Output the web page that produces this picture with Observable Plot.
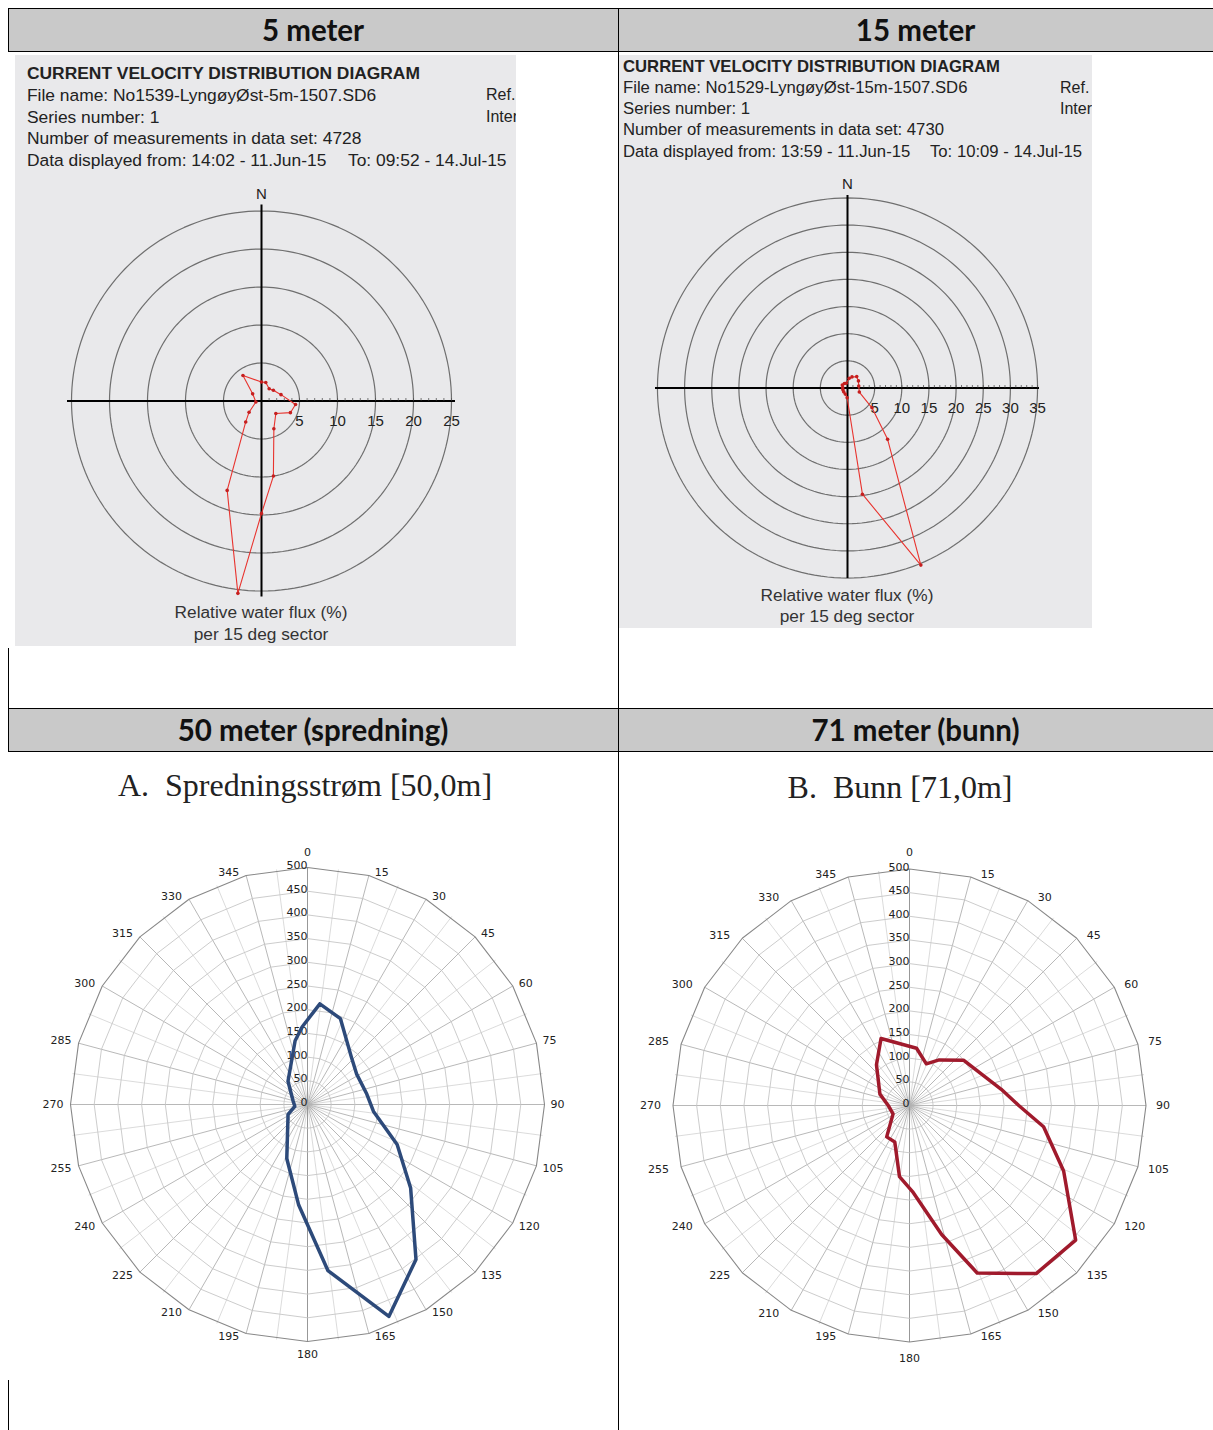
<!DOCTYPE html>
<html><head><meta charset="utf-8">
<script src="https://cdn.jsdelivr.net/npm/d3@7"></script>
<script src="https://cdn.jsdelivr.net/npm/@observablehq/plot@0.6"></script>
<style>
body{margin:0;width:1213px;height:1430px;position:relative;background:#fff;overflow:hidden;font-family:"Liberation Sans",Arial,sans-serif;}
.hdr{position:absolute;background:#c9c9c9;font-family:Lato,"Open Sans",sans-serif;font-weight:700;font-size:29.5px;color:#111;display:flex;align-items:center;justify-content:center;}
.vl{position:absolute;background:#000;width:1px;}
.hl{position:absolute;background:#000;height:1px;}
.panel{position:absolute;background:#e9e9eb;overflow:hidden;color:#222;}
.t{position:absolute;white-space:nowrap;line-height:20px;}
.cap{position:absolute;text-align:center;color:#333;font-size:17.3px;line-height:22px;white-space:nowrap;}
.ttl{position:absolute;font-family:"Liberation Serif","DejaVu Serif",serif;font-size:32px;color:#222;white-space:pre;text-align:center;}
.plot{position:absolute;}
</style></head><body>
<script>
// ---------- data ----------
const headers = ["5 meter", "15 meter", "50 meter (spredning)", "71 meter (bunn)"];

// 5 m: relative water flux (%) per 15 deg sector (direction in degrees)
const depth5Angles = [0, 13, 32, 48, 72, 96, 112, 131, 156, 171, 180, 187, 201, 217, 228, 260, 309, 324];
const depth5Flux   = [2.5, 2.5, 1.9, 2.1, 2.7, 4.5, 4.1, 2.5, 4.0, 10.0, 14.8, 25.5, 12.6, 3.45, 2.2, 0.75, 1.5, 4.15];

// 15 m
const depth15Angles = [10, 22, 39, 57, 80, 109, 129, 142, 157.5, 172, 182, 200, 225, 250, 275, 300, 325, 345];
const depth15Flux   = [1.8, 2.2, 2.7, 2.4, 2.1, 2.3, 5.8, 12.0, 35.3, 19.75, 1.8, 1.2, 1.0, 0.9, 0.9, 1.1, 1.0, 0.9];

// 50 m (spredning)
const spredAngles = [7, 21, 43, 58, 80, 96, 114, 129, 145, 159, 173, 185, 201, 243, 262, 283, 320, 349, 356];
const spredFlux   = [214, 194, 136, 122, 127, 140, 207, 280, 399, 479, 353, 213, 122, 46, 27, 31, 64, 137, 164];

// 71 m (bunn)
const bunnAngles = [7, 22, 33, 50, 80, 90, 99, 113, 129, 143, 158, 166, 178, 188, 202, 216, 243, 270, 291, 321, 337];
const bunnFlux   = [122, 95, 115, 149, 197, 231, 287, 354, 452, 445, 382, 281, 182, 152, 83, 82, 39, 45, 67, 111, 154];

const rings5m = [5, 10, 15, 20, 25];
const rings15m = [5, 10, 15, 20, 25, 30, 35];
const bottomRings = [0, 50, 100, 150, 200, 250, 300, 350, 400, 450, 500];
const compassLabels = [0, 15, 30, 45, 60, 75, 90, 105, 120, 135, 150, 165, 180, 195, 210, 225, 240, 255, 270, 285, 300, 315, 330, 345];

const titles = ["A.  Spredningsstrøm [50,0m]", "B.  Bunn [71,0m]"];
const info5 = ["CURRENT VELOCITY DISTRIBUTION DIAGRAM", "File name: No1539-LyngøyØst-5m-1507.SD6", "Series number: 1", "Number of measurements in data set: 4728", "Data displayed from: 14:02 - 11.Jun-15", "To: 09:52 - 14.Jul-15"];
const info15 = ["CURRENT VELOCITY DISTRIBUTION DIAGRAM", "File name: No1529-LyngøyØst-15m-1507.SD6", "Series number: 1", "Number of measurements in data set: 4730", "Data displayed from: 13:59 - 11.Jun-15", "To: 10:09 - 14.Jul-15"];
const captionLines = ["Relative water flux (%)", "per 15 deg sector"];

// ---------- helpers ----------
const rad = a => a * Math.PI / 180;
const px = (a, v) => v * Math.sin(rad(a));
const py = (a, v) => v * Math.cos(rad(a));
function polyPts(angles, vals) {
  return angles.map((a, i) => ({x: px(a, vals[i]), y: py(a, vals[i])}));
}
function closed(p) { return [...p, p[0]]; }
function frame(left, top, W, H, cx, cy, k, font) {
  return {
    width: W, height: H, marginTop: 0, marginRight: 0, marginBottom: 0, marginLeft: 0,
    x: {domain: [-(cx - left) / k, (left + W - cx) / k], axis: null},
    y: {domain: [-(top + H - cy) / k, (cy - top) / k], axis: null},
    style: {background: "transparent", overflow: "visible", fontFamily: font}
  };
}
function place(node, left, top) {
  const d = document.createElement("div");
  d.className = "plot";
  d.style.left = left + "px"; d.style.top = top + "px";
  d.appendChild(node);
  document.body.appendChild(d);
}
function el(cls, style, text, parent) {
  const d = document.createElement("div");
  d.className = cls;
  Object.assign(d.style, style);
  if (text != null) d.textContent = text;
  (parent || document.body).appendChild(d);
  return d;
}

// ---------- table ----------
el("hdr", {left: "8px", top: "8px", width: "610px", height: "43px"}, headers[0]);
el("hdr", {left: "618px", top: "8px", width: "595px", height: "43px"}, headers[1]);
el("hdr", {left: "8px", top: "708px", width: "610px", height: "43px"}, headers[2]);
el("hdr", {left: "618px", top: "708px", width: "595px", height: "43px"}, headers[3]);
[8, 51, 708, 751].forEach(y => el("hl", {left: "8px", top: y + "px", width: "1205px"}));
el("vl", {left: "618px", top: "8px", height: "1422px"});
el("vl", {left: "8px", top: "8px", height: "43px"});
el("vl", {left: "8px", top: "648px", height: "103px"});
el("vl", {left: "8px", top: "1380px", height: "50px"});

// ---------- top panels ----------
function topPanel(left, top, w, h, info, tops, refX, toX, textX, fs) {
  const p = el("panel", {left: left + "px", top: top + "px", width: w + "px", height: h + "px", fontSize: fs + "px"});
  el("t", {left: textX + "px", top: tops[0] + "px", fontWeight: "bold"}, info[0], p);
  el("t", {left: textX + "px", top: tops[1] + "px"}, info[1], p);
  el("t", {left: textX + "px", top: tops[2] + "px"}, info[2], p);
  el("t", {left: textX + "px", top: tops[3] + "px"}, info[3], p);
  el("t", {left: textX + "px", top: tops[4] + "px"}, info[4], p);
  el("t", {left: toX + "px", top: tops[4] + "px"}, info[5], p);
  el("t", {left: refX + "px", top: tops[1] + "px", fontSize: "16px"}, "Ref.", p);
  el("t", {left: refX + "px", top: tops[2] + "px", fontSize: "16px"}, "Inter", p);
  return p;
}
topPanel(15, 55, 501, 591, info5, [8, 30, 52, 73, 95], 471, 333, 12, 17.4);
topPanel(619, 55, 473, 573, info15, [2, 23, 44, 65, 87], 441, 311, 4, 16.7);

function topChart(left, top, W, H, cx, cy, k, rings, angles, flux, axH, axUp, axDown, nPx) {
  const maxR = rings[rings.length - 1];
  const circles = rings.flatMap(v => d3.range(0, 361, 2).map(a => ({ring: v, x: px(a, v), y: py(a, v)})));
  const pts = polyPts(angles, flux);
  const chart = Plot.plot({
    ...frame(left, top, W, H, cx, cy, k, "Liberation Sans, Arial, sans-serif"),
    marks: [
      Plot.line(circles, {x: "x", y: "y", z: "ring", stroke: "#6f6f6f", strokeWidth: 1.2}),
      Plot.ruleY([0], {x1: -axH / k, x2: axH / k, stroke: "#000", strokeWidth: 2}),
      Plot.ruleX([0], {y1: -axDown / k, y2: axUp / k, stroke: "#000", strokeWidth: 2}),
      Plot.ruleX(d3.range(1, maxR + 1), {x: d => d, y1: 0, y2: 2.5 / k, stroke: "#555", strokeWidth: 0.8}),
      Plot.text(rings, {x: d => d, y: -20 / k, text: d => String(d), fontSize: 15, fill: "#222"}),
      Plot.text(["N"], {x: 0, y: nPx / k, text: d => d, fontSize: 15, fill: "#222"}),
      Plot.line(closed(pts), {x: "x", y: "y", stroke: "#e8332e", strokeWidth: 1.1}),
      Plot.dot(pts, {x: "x", y: "y", r: 1.8, fill: "#c51f1f"})
    ]
  });
  place(chart, left, top);
}
topChart(15, 180, 501, 420, 261, 400.5, 7.6, rings5m, depth5Angles, depth5Flux, 194, 196, 196, 206.5);
topChart(619, 170, 473, 420, 847, 387.5, 5.43, rings15m, depth15Angles, depth15Flux, 192, 192.5, 190.5, 203.5);

el("cap", {left: "111px", top: "601px", width: "300px"}, captionLines[0]);
el("cap", {left: "111px", top: "623px", width: "300px"}, captionLines[1]);
el("cap", {left: "697px", top: "584px", width: "300px"}, captionLines[0]);
el("cap", {left: "697px", top: "605px", width: "300px"}, captionLines[1]);

// ---------- bottom radar charts ----------
el("ttl", {left: "105px", top: "767px", width: "400px"}, titles[0]);
el("ttl", {left: "700px", top: "769px", width: "400px"}, titles[1]);

function radarChart(left, top, W, H, cx, cy, k, angles, flux, color, vgapTop, vgapBot, gapR, gapL) {
  const rmax = 500;
  const ringPts = bottomRings.filter(v => v > 0).flatMap(v => d3.range(0, 361, 15).map(a => ({ring: v, x: px(a, v), y: py(a, v)})));
  const spokes = d3.range(0, 360, 7.5).map(a => ({a, x: px(a, rmax), y: py(a, rmax)}));
  const pts = polyPts(angles, flux);
  const lab = {x: d => px(d, rmax), y: d => py(d, rmax), text: d => String(d), fontSize: 11, fill: "#222"};
  const right = compassLabels.filter(d => d > 0 && d < 180);
  const left_ = compassLabels.filter(d => d > 180);
  const up = d => Math.cos(rad(d)) > 0.05, down = d => Math.cos(rad(d)) < -0.05, mid = d => !up(d) && !down(d);
  const chart = Plot.plot({
    ...frame(left, top, W, H, cx, cy, k, "DejaVu Sans, Verdana, sans-serif"),
    marks: [
      Plot.link(spokes.filter(s => s.a % 15 !== 0), {x1: 0, y1: 0, x2: "x", y2: "y", stroke: "#d2d2d2", strokeWidth: 0.8}),
      Plot.link(spokes.filter(s => s.a % 15 === 0), {x1: 0, y1: 0, x2: "x", y2: "y", stroke: d => (d.a === 0 || d.a === 180) ? "#8c8c8c" : "#b0b0b0", strokeWidth: 0.9}),
      Plot.line(ringPts.filter(d => d.ring < rmax), {x: "x", y: "y", z: "ring", stroke: "#c6c6c6", strokeWidth: 0.9}),
      Plot.line(ringPts.filter(d => d.ring === rmax), {x: "x", y: "y", stroke: "#888", strokeWidth: 1.1}),
      // compass labels placed beside the end of each spoke
      Plot.text(right.filter(up), {...lab, textAnchor: "start", dx: gapR, dy: -3}),
      Plot.text(right.filter(mid), {...lab, textAnchor: "start", dx: gapR, dy: 0}),
      Plot.text(right.filter(down), {...lab, textAnchor: "start", dx: gapR, dy: 3}),
      Plot.text(left_.filter(up), {...lab, textAnchor: "end", dx: -gapL, dy: -3}),
      Plot.text(left_.filter(mid), {...lab, textAnchor: "end", dx: -gapL, dy: 0}),
      Plot.text(left_.filter(down), {...lab, textAnchor: "end", dx: -gapL, dy: 3}),
      Plot.text([0], {...lab, dy: -vgapTop}),
      Plot.text([180], {...lab, dy: vgapBot}),
      Plot.text(bottomRings, {x: 0, y: d => d, text: d => String(d), textAnchor: "end", dx: 0, dy: -2, fontSize: 11, fill: "#222"}),
      Plot.line(closed(pts), {x: "x", y: "y", stroke: color, strokeWidth: 3.5, strokeLinejoin: "round"})
    ]
  });
  place(chart, left, top);
}
radarChart(30, 830, 560, 545, 307, 1104, 0.474, spredAngles, spredFlux, "#2d4a7a", 15, 13, 6, 7);
radarChart(630, 830, 560, 545, 909, 1105, 0.473, bunnAngles, bunnFlux, "#a01a2c", 17, 16, 10, 12);
</script>
</body></html>
